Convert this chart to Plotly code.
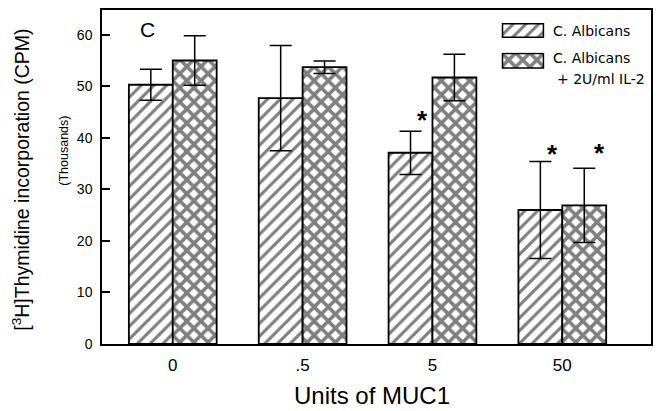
import plotly.graph_objects as go

categories = ["0", ".5", "5", "50"]
albicans = [50.3, 47.7, 37.1, 26.0]
albicans_err = [3.0, 10.2, 4.2, 9.4]
albicans_il2 = [55.0, 53.7, 51.7, 26.9]
albicans_il2_err = [4.8, 1.2, 4.5, 7.2]
y_ticks = [0, 10, 20, 30, 40, 50, 60]
# significance stars: (category index, series index)
stars = [(2, 0), (3, 0), (3, 1)]
star_shift = [(12, 11), (12, 8), (15, 15)]

W, H = 661, 411
L, R, T, B = 102, 8, 9, 67
PW, PH = W - L - R, H - T - B


def px_x(px):
    return (px - L) / PW


def px_y(py):
    return (H - B - py) / PH


FONT = "Liberation Sans, Arial, sans-serif"
LFONT = "DejaVu Sans, Liberation Sans, sans-serif"
xs = list(range(len(categories)))
BW = 0.338
XR = [-0.545, 3.683]
PX_PER_UNIT = PW / (XR[1] - XR[0])
HALF_BAR_PX = BW * PX_PER_UNIT / 2

fig = go.Figure()
series = [
    ("C. Albicans", albicans, albicans_err, "/", 9, 0.34),
    ("C. Albicans + 2U/ml IL-2", albicans_il2, albicans_il2_err, "x", 10, 0.58),
]
for i, (name, vals, errs, shape, size, sol) in enumerate(series):
    fig.add_trace(go.Bar(
        x=xs, y=vals, name=name, width=BW,
        offset=-BW if i == 0 else 0,
        marker=dict(color="white", line=dict(color="black", width=1.8),
                    pattern=dict(shape=shape, size=size, solidity=sol,
                                 fgcolor="black", bgcolor="white", fillmode="overlay")),
        error_y=dict(type="data", array=errs, visible=True, color="black",
                     thickness=1.5, width=11),
        showlegend=False,
    ))

# legend swatches on small overlay axes
sw_y = [(22, 37), (52, 68)]
for i, (name, vals, errs, shape, size, sol) in enumerate(series):
    ax = i + 2
    fig.add_trace(go.Bar(
        x=[0], y=[1], width=1, xaxis=f"x{ax}", yaxis=f"y{ax}",
        marker=dict(color="white", line=dict(color="black", width=1.8),
                    pattern=dict(shape=shape, size=size, solidity=sol,
                                 fgcolor="black", bgcolor="white", fillmode="overlay")),
        showlegend=False, hoverinfo="skip",
    ))
    y0, y1 = sw_y[i]
    fig.layout[f"xaxis{ax}"] = dict(domain=[px_x(503), px_x(546)], range=[-0.52, 0.52],
                                    visible=False, anchor=f"y{ax}", fixedrange=True)
    fig.layout[f"yaxis{ax}"] = dict(domain=[px_y(y1), px_y(y0)], range=[-0.04, 1.04],
                                    visible=False, anchor=f"x{ax}", fixedrange=True)

annotations = []
# legend text
for txt, px, py in [("C. Albicans", 553, 30), ("C. Albicans", 553, 57), ("+ 2U/ml IL-2", 557, 78)]:
    annotations.append(dict(text=txt, x=px_x(px), y=px_y(py), xref="paper", yref="paper",
                            xanchor="left", yanchor="middle", showarrow=False,
                            font=dict(family=LFONT, size=14, color="black")))
# stars
for (ci, si), (dx, dy) in zip(stars, star_shift):
    vals = series[si][1]
    errs = series[si][2]
    annotations.append(dict(text="<b>*</b>", x=xs[ci], y=vals[ci] + errs[ci],
                            xref="x", yref="y", showarrow=False,
                            xanchor="center", yanchor="middle",
                            xshift=(-HALF_BAR_PX if si == 0 else HALF_BAR_PX) + dx, yshift=dy,
                            font=dict(family=FONT, size=26, color="black")))
# panel letter
annotations.append(dict(text="C", x=px_x(148), y=px_y(29), xref="paper", yref="paper",
                        xanchor="center", yanchor="middle",
                        showarrow=False, font=dict(family=FONT, size=21, color="black")))
# y titles
annotations.append(dict(text="[<sup>3</sup>H]Thymidine incorporation (CPM)",
                        x=px_x(21), y=px_y(179), xref="paper", yref="paper",
                        xanchor="center", yanchor="middle",
                        textangle=-90, showarrow=False,
                        font=dict(family=FONT, size=19.5, color="black")))
annotations.append(dict(text="(Thousands)", x=px_x(63), y=px_y(150), xref="paper",
                        yref="paper", textangle=-90, showarrow=False,
                        xanchor="center", yanchor="middle",
                        font=dict(family=FONT, size=12.5, color="black")))
annotations.append(dict(text="Units of MUC1", x=px_x(373), y=px_y(396), xref="paper",
                        yref="paper", showarrow=False,
                        xanchor="center", yanchor="middle",
                        font=dict(family=FONT, size=24, color="black")))

fig.update_layout(
    width=W, height=H, margin=dict(l=L, r=R, t=T, b=B),
    paper_bgcolor="white", plot_bgcolor="white",
    barmode="overlay", showlegend=False,
    annotations=annotations,
    xaxis=dict(range=XR, tickvals=xs, ticktext=categories,
               showgrid=False, zeroline=False, showline=True, linecolor="black",
               linewidth=1.5, mirror=True, ticks="", ticklabelstandoff=5,
               tickfont=dict(family=FONT, size=17, color="black")),
    yaxis=dict(range=[0, 64.8], tickvals=y_ticks, showgrid=False, zeroline=False,
               showline=True, linecolor="black", linewidth=1.5, mirror=True,
               ticks="inside", ticklen=8, tickwidth=1.5, tickcolor="black",
               ticklabelstandoff=5,
               tickfont=dict(family=FONT, size=14, color="black")),
)

fig.write_html("out.html", config={"displayModeBar": False},
               post_script="document.body.style.margin='0';document.body.style.overflow='hidden';")
